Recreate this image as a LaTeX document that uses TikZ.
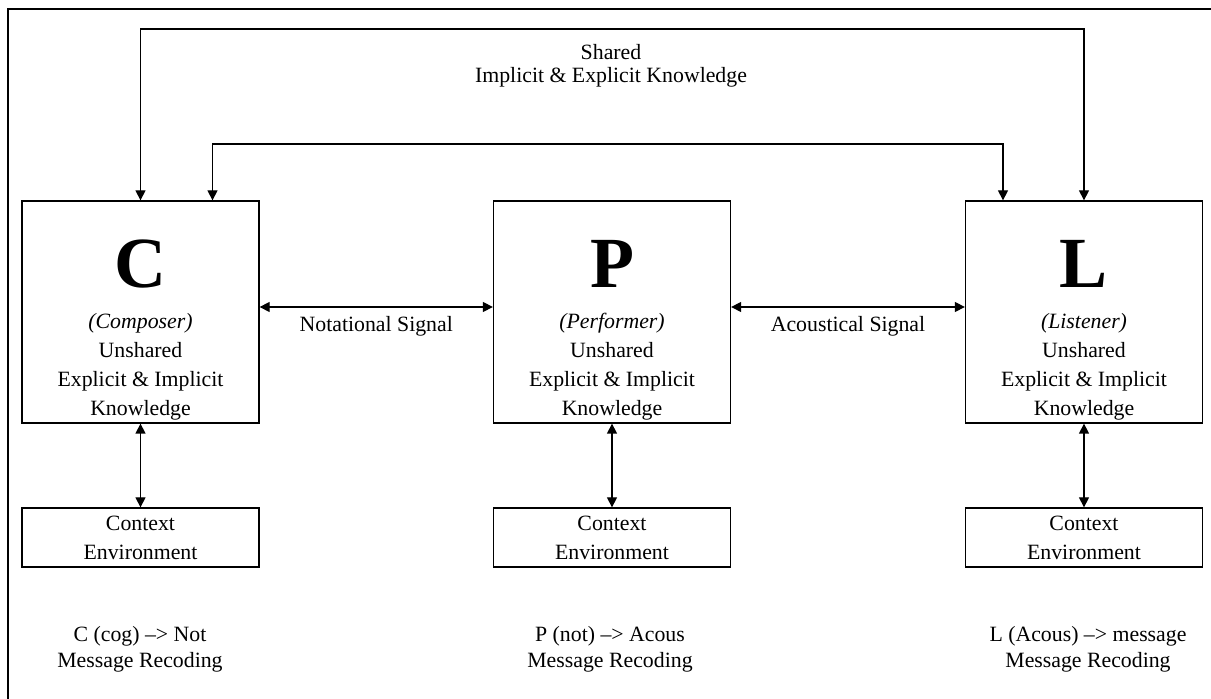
\documentclass[tikz,border=0pt]{standalone}
\usepackage{fontspec}
\setmainfont{Liberation Serif}
\usetikzlibrary{arrows.meta}

\begin{document}
\begin{tikzpicture}[x=0.5pt,y=-0.5pt,line width=0.65pt,
  font=\fontsize{10.9}{14.5}\selectfont,
  >={Triangle[length=5pt,width=5pt]},
  agent/.style={draw,minimum width=118.5pt,minimum height=111pt,inner sep=0pt},
  ctxbox/.style={draw,minimum width=118.5pt,minimum height=29.5pt,inner sep=0pt,align=center},
  bigletter/.style={font=\fontsize{36}{36}\selectfont\bfseries},
  knows/.style={align=center},
  recode/.style={align=center,font=\fontsize{10.9}{13}\selectfont}]
  \useasboundingbox (0,0) rectangle (1211,699);
  \draw[line width=1.3pt] (8,699) |- (1211,9);

  % the three agents
  \node[agent] (C) at (140.5,312) {};
  \node[agent] (P) at (612,312) {};
  \node[agent] (L) at (1084,312) {};
  \node[bigletter] (Cname) at (140.5,264) {C};
  \node[bigletter] (Pname) at (612,264) {P};
  \node[bigletter] (Lname) at (1084,264) {L};
  \node[knows] (Cknow) at (140.5,367) {\textit{(Composer)}\\Unshared\\Explicit \& Implicit\\Knowledge};
  \node[knows] (Pknow) at (612,367) {\textit{(Performer)}\\Unshared\\Explicit \& Implicit\\Knowledge};
  \node[knows] (Lknow) at (1084,367) {\textit{(Listener)}\\Unshared\\Explicit \& Implicit\\Knowledge};

  % context boxes
  \node[ctxbox] (Cctx) at (140.5,537.5) {Context\\Environment};
  \node[ctxbox] (Pctx) at (612,537.5) {Context\\Environment};
  \node[ctxbox] (Lctx) at (1084,537.5) {Context\\Environment};
  \draw[<->] (C.south) -- (Cctx.north);
  \draw[<->] (P.south) -- (Pctx.north);
  \draw[<->] (L.south) -- (Lctx.north);

  % signals
  \draw[<->] ([yshift=2.5pt]C.east) -- ([yshift=2.5pt]P.west)
    node[midway,below=1pt] (notsig) {Notational Signal};
  \draw[<->] ([yshift=2.5pt]P.east) -- ([yshift=2.5pt]L.west)
    node[midway,below=1pt] (acsig) {Acoustical Signal};

  % shared knowledge
  \coordinate (outer) at (0,29);
  \coordinate (inner) at (0,144);
  \draw[<->] (C.north) -- (C.north |- outer) -| (L.north);
  \draw[<->] ([xshift=36pt]C.north) -- ([xshift=36pt]C.north |- inner) -| ([xshift=-40.5pt]L.north);
  \node[align=center,font=\fontsize{10.9}{11.5}\selectfont] (shared) at (611,65.5) {Shared\\Implicit \& Explicit Knowledge};

  % recoding
  \node[recode] (Crec) at (140,649) {C (cog) --{}> Not\\Message Recoding};
  \node[recode] (Prec) at (610,649) {P (not) --{}> Acous\\Message Recoding};
  \node[recode] (Lrec) at (1088,649) {L (Acous) --{}> message\\Message Recoding};
\end{tikzpicture}
\end{document}
